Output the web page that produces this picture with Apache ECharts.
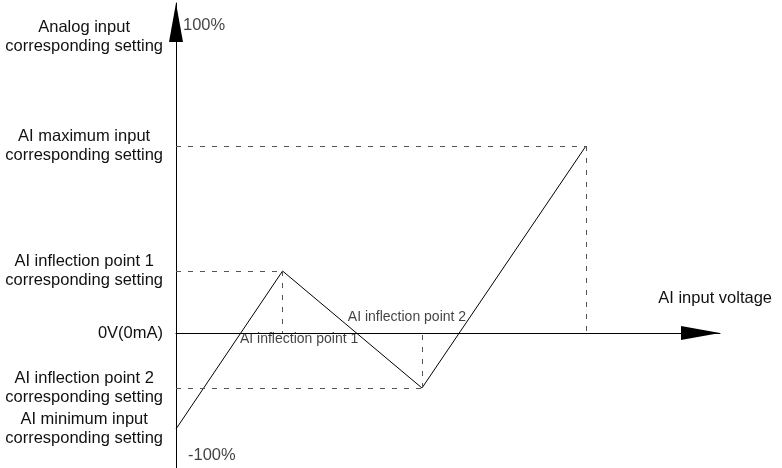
<!DOCTYPE html>
<html><head><meta charset="utf-8">
<script src="https://cdn.jsdelivr.net/npm/echarts@6/dist/echarts.min.js"></script>
<style>html,body{margin:0;padding:0;background:#fff}#c{width:782px;height:468px}</style>
</head><body><div id="c"></div>
<script>
// x: input in volts (0V .. 10V); y: setting in arbitrary units (0 = the 0V axis)
const curveX = [0, 2.6, 6.0, 10];
const curveY = [-48, 31, -27.5, 93.5];
const xRange = [0, 13.27];
const yRange = [-67.5, 165];
const yLevelNames = [
  ['AI minimum input', 'corresponding setting'],
  ['AI inflection point 1', 'corresponding setting'],
  ['AI inflection point 2', 'corresponding setting'],
  ['AI maximum input', 'corresponding setting']
];
const originLabel = '0V(0mA)';
const xMaxLabel = '10V(20mA)';
const inflectionLabels = ['AI inflection point 1', 'AI inflection point 2'];
const yAxisNameLines = ['Analog input', 'corresponding setting'];
const xAxisName = 'AI input voltage';
const yEndLabels = ['100%', '-100%'];

const FONT = "'Liberation Sans', Arial, sans-serif";
const FS = 16.5, LH = 19.5;
const rich = {
  c: { align: 'center', fontSize: FS, lineHeight: LH, fontFamily: FONT, color: '#111' },
  s: { align: 'right', fontSize: FS, lineHeight: LH, fontFamily: FONT, color: '#111' }
};
const twoLine = (a, b) => '{c|' + a + '}\n{c|' + b + '}';

const axisArrow = {
  show: true,
  symbol: ['none', 'triangle'],
  symbolSize: [14, 39],
  symbolOffset: [0, -19.5],
  lineStyle: { color: '#000', width: 1 }
};

const dashed = [];
for (let i = 1; i < curveX.length; i++) {
  dashed.push([{ coord: [xRange[0], curveY[i]] }, { coord: [curveX[i], curveY[i]] }]);
  dashed.push([{ coord: [curveX[i], curveY[i]] }, { coord: [curveX[i], 0] }]);
}

const chart = echarts.init(document.getElementById('c'), null, { renderer: 'canvas' });
chart.setOption({
  animation: false,
  backgroundColor: '#fff',
  textStyle: { fontFamily: FONT },
  grid: { left: 176, right: 62, top: 3, bottom: 0, containLabel: false, outerBoundsMode: 'none' },
  xAxis: {
    type: 'value', min: xRange[0], max: xRange[1],
    axisLine: axisArrow,
    axisTick: { show: false },
    splitLine: { show: false },
    axisLabel: {
      customValues: [curveX[3]],
      formatter: () => xMaxLabel,
      showMinLabel: true, showMaxLabel: true, hideOverlap: false,
      margin: 9, fontSize: FS, fontFamily: FONT, color: '#111'
    },
    name: xAxisName, nameLocation: 'end', nameGap: 52,
    nameTextStyle: { align: 'right', verticalAlign: 'bottom', padding: [0, 0, 26, 0], fontSize: FS, fontFamily: FONT, color: '#111' }
  },
  yAxis: {
    type: 'value', min: yRange[0], max: yRange[1],
    axisLine: axisArrow,
    axisTick: { show: false },
    splitLine: { show: false },
    axisLabel: {
      customValues: [curveY[3], curveY[1], 0, curveY[2], curveY[0]],
      showMinLabel: true, showMaxLabel: true, hideOverlap: false,
      margin: 13,
      rich: rich,
      formatter: function (v) {
        if (v === 0) return '{s|' + originLabel + '}';
        const i = curveY.indexOf(v);
        return twoLine(yLevelNames[i][0], yLevelNames[i][1]);
      }
    },
    name: twoLine(yAxisNameLines[0], yAxisNameLines[1]),
    nameLocation: 'end', nameGap: -14.5,
    nameTextStyle: { align: 'right', verticalAlign: 'top', padding: [0, 13, 0, 0], rich: rich }
  },
  series: [
    {
      type: 'line',
      data: curveX.map((x, i) => [x, curveY[i]]),
      symbol: 'none',
      lineStyle: { color: '#000', width: 1 },
      z: 3,
      markLine: {
        silent: true,
        symbol: ['none', 'none'],
        label: { show: false },
        lineStyle: { type: [5, 7], color: '#555', width: 1 },
        data: dashed
      }
    },
    {
      type: 'scatter',
      symbolSize: 0,
      z: 5,
      label: { show: true, position: 'inside', fontSize: 14, fontFamily: FONT, color: '#111' },
      data: [
        { value: [curveX[1], 0], label: { formatter: inflectionLabels[0], offset: [16.5, 6.5] } },
        { value: [curveX[2], 0], label: { formatter: inflectionLabels[1], offset: [-15, -16] } }
      ]
    },
    {
      type: 'scatter',
      symbolSize: 0,
      z: 5,
      label: { show: true, position: 'inside', align: 'left', fontSize: FS, fontFamily: FONT, color: '#111' },
      data: [
        { value: [xRange[0], yRange[1]], label: { formatter: yEndLabels[0], offset: [7, 22] } },
        { value: [xRange[0], yRange[0]], label: { formatter: yEndLabels[1], offset: [12, -13] } }
      ]
    }
  ]
});
</script></body></html>
